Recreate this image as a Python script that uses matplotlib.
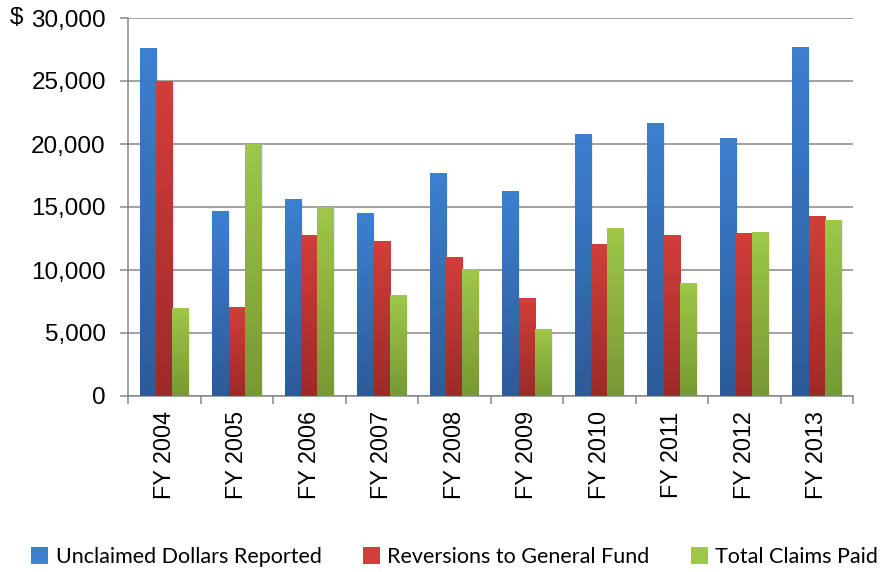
import numpy as np
import matplotlib
matplotlib.use('Agg')
import matplotlib.pyplot as plt
from matplotlib.patches import Patch, Rectangle
from matplotlib.colors import LinearSegmentedColormap

# Daten
jahre = ['FY 2004', 'FY 2005', 'FY 2006', 'FY 2007', 'FY 2008',
         'FY 2009', 'FY 2010', 'FY 2011', 'FY 2012', 'FY 2013']
unclaimed = [27600, 14700, 15600, 14500, 17700, 16300, 20800, 21700, 20500, 27700]
reversions = [25000, 7100, 12750, 12300, 11000, 7750, 12100, 12750, 12900, 14250]
claims = [6950, 20000, 15000, 8000, 10050, 5300, 13300, 9000, 13000, 14000]

serien = ['Unclaimed Dollars Reported', 'Reversions to General Fund', 'Total Claims Paid']
# (oben, unten) Farbverlauf
farben = [('#3d80d0', '#2c5b98'), ('#d23e3b', '#9d2a28'), ('#9fc748', '#779934')]

plt.rcParams['font.family'] = ['Liberation Sans', 'DejaVu Sans']

fig = plt.figure(figsize=(8.88, 5.72), dpi=100)
ax = fig.add_axes([128 / 888, 1 - 396 / 572, 725 / 888, 378 / 572])

x = np.arange(len(jahre))
breite = 0.224
werte = [unclaimed, reversions, claims]

for i, (vals, (oben, unten)) in enumerate(zip(werte, farben)):
    bars = ax.bar(x + (i - 1) * breite, vals, breite, color='none', zorder=3)
    cmap = LinearSegmentedColormap.from_list('g%d' % i, [unten, oben])
    grad = np.linspace(0, 1, 256).reshape(-1, 1)
    for b in bars:
        bx, bw, bh = b.get_x(), b.get_width(), b.get_height()
        # leichter Schatten rechts
        sh = Rectangle((bx + 0.02, 0), bw, bh - 150, facecolor='#000000',
                       alpha=0.07, edgecolor='none', zorder=2)
        ax.add_patch(sh)
        im = ax.imshow(grad, extent=[bx, bx + bw, 0, bh], origin='lower',
                       aspect='auto', cmap=cmap, zorder=3)
        im.set_clip_path(b)

ax.set_xlim(-0.5, len(jahre) - 0.5)
ax.set_ylim(0, 30000)
ax.set_yticks(np.arange(0, 30001, 5000))
ax.set_yticklabels(['{:,}'.format(v) for v in range(0, 30001, 5000)], fontsize=17.5)
ax.yaxis.grid(True, color='#878787', linewidth=1.1, zorder=0)
ax.set_axisbelow(True)

ax.set_xticks(x)
ax.set_xticklabels(jahre, rotation=90, fontsize=16.8)
ax.set_xticks(np.arange(-0.5, len(jahre)), minor=True)
ax.tick_params(axis='x', which='major', length=0, pad=11)
ax.tick_params(axis='x', which='minor', length=6, width=1.1, color='#878787')
ax.tick_params(axis='y', length=6, width=1.1, color='#878787', pad=10)

for s in ['top', 'right']:
    ax.spines[s].set_visible(False)
for s in ['left', 'bottom']:
    ax.spines[s].set_color('#878787')
    ax.spines[s].set_linewidth(1.1)

fig.text(10 / 888, 1 - 18 / 572, '$', fontsize=17.5, va='center', ha='left')

handles = [Patch(facecolor=o, edgecolor='none') for o, u in farben]
fig.legend(handles, serien, loc='center', bbox_to_anchor=(0.512, 1 - 557 / 572),
           ncol=3, frameon=False, prop={'family': 'Lato', 'size': 15.5},
           handlelength=0.8, handleheight=0.8, handletextpad=0.35,
           columnspacing=1.9, borderaxespad=0)

fig.savefig('out.png', dpi=100)
